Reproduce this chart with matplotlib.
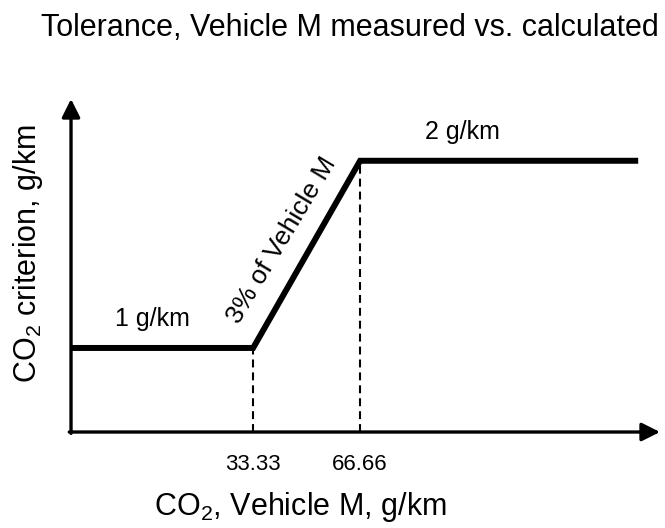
import matplotlib
matplotlib.use("Agg")
import matplotlib.pyplot as plt

# piecewise tolerance criterion: flat 1 g/km, 3 % ramp, flat 2 g/km
breakpoints = [33.33, 66.66]
tolerance = [1, 2]
tick_labels = ["33.33", "66.66"]
x_range = (-23.4, 160.1)
line_end = 153.3
y_range = (0.551, 2.33)

plt.rcParams['font.family'] = ['Liberation Sans', 'DejaVu Sans']
plt.rcParams['mathtext.fontset'] = 'custom'
plt.rcParams['mathtext.rm'] = 'Liberation Sans'
plt.rcParams['mathtext.it'] = 'Liberation Sans:italic'

fig = plt.figure(figsize=(6.65, 5.28), dpi=100)
ax = fig.add_axes([0.1068, 0.1818, 0.8857, 0.6307])
ax.set_xlim(*x_range)
ax.set_ylim(*y_range)

# criterion curve
xs = [x_range[0], breakpoints[0], breakpoints[1], line_end]
ys = [tolerance[0], tolerance[0], tolerance[1], tolerance[1]]
ax.plot(xs, ys, color="black", linewidth=4.3, solid_joinstyle="miter",
        solid_capstyle="butt", clip_on=False)

# dashed drop lines at the break points
for bx, ty in zip(breakpoints, tolerance):
    ax.plot([bx, bx], [y_range[0], ty], color="black", linewidth=1.5,
            linestyle=(0, (3.8, 2.4)))

# axes drawn as arrows
for sp in ax.spines.values():
    sp.set_visible(False)
arrow = dict(arrowstyle="-|>,head_length=1.1,head_width=0.55", color="black",
             lw=2.4, shrinkA=0, shrinkB=0)
ax.annotate("", xy=(1, 0), xytext=(-0.003, 0), xycoords="axes fraction",
            arrowprops=arrow)
ax.annotate("", xy=(0, 1), xytext=(0, -0.004), xycoords="axes fraction",
            arrowprops=arrow)

ax.set_xticks(breakpoints)
ax.set_xticklabels(tick_labels, fontsize=16)
ax.tick_params(axis="x", length=0, pad=16)
ax.set_yticks([])

# segment labels
ax.text(2.0, tolerance[0] + 0.09, "1 g/km", ha="center", va="bottom",
        fontsize=18)
ax.text(98.7, tolerance[1] + 0.09, "2 g/km", ha="center", va="bottom",
        fontsize=18)
ax.annotate("3% of Vehicle M",
            xy=(sum(breakpoints) / 2, sum(tolerance) / 2),
            xytext=(-17.6, 10.4), textcoords="offset points",
            rotation=59, ha="center", va="center", fontsize=19,
            rotation_mode="anchor")

ax.set_xlabel("CO$_2$, Vehicle M, g/km", fontsize=22, va="center")
ax.xaxis.set_label_coords(0.389, -0.225)
ax.set_ylabel("CO$_2$ criterion, g/km", fontsize=22, va="center")
ax.yaxis.set_label_coords(-0.073, 0.537)
fig.suptitle("Tolerance, Vehicle M measured vs. calculated", x=0.526,
             y=0.947, va="center", fontsize=22)

fig.savefig("out.png", dpi=100)
